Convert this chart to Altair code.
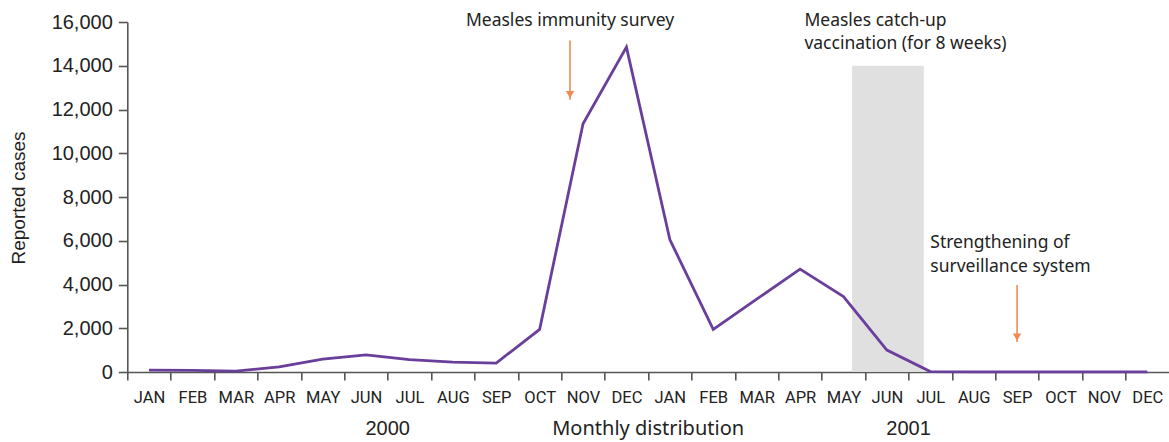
import altair as alt
import pandas as pd

# ---- data ----
months = ["JAN", "FEB", "MAR", "APR", "MAY", "JUN", "JUL", "AUG", "SEP", "OCT", "NOV", "DEC"]
years = ["2000", "2001"]
cases_2000 = [90, 70, 40, 230, 590, 780, 570, 450, 410, 1950, 11350, 14850]
cases_2001 = [6050, 1950, 3330, 4700, 3450, 1000, 20, 10, 10, 10, 10, 10]

# shaded catch-up vaccination period (in month-index units, 0 = Jan 2000 start)
shade_start = [16.7]
shade_end = [18.35]
shade_top = [14000]

# arrows (month-index position, start value, tip value)
arrow_x = [10.2, 20.5]
arrow_from = [15150, 3980]
arrow_to = [12450, 1370]

# annotation texts
ann_text = ["Measles immunity survey", "Measles catch-up", "vaccination (for 8 weeks)",
            "Strengthening of", "surveillance system"]
ann_x = [10.2, 15.6, 15.6, 18.5, 18.5]
ann_y = [15800, 15820, 14760, 5650, 4590]
ann_align = ["center", "left", "left", "left", "left"]

bottom_text = ["2000", "Monthly distribution", "2001"]
bottom_x = [6, 12, 18]
bottom_font = ["Liberation Sans", "Noto Sans", "Liberation Sans"]

# ---- tables ----
keys, vals = [], []
for y, series in zip(years, [cases_2000, cases_2001]):
    for m, v in zip(months, series):
        keys.append(f"{y}-{m}")
        vals.append(v)
line_df = pd.DataFrame({"key": keys, "v": vals})
shade_df = pd.DataFrame({"x1": shade_start, "x2": shade_end, "v": [0], "v2": shade_top})
arrow_df = pd.DataFrame({"x": arrow_x, "v": arrow_from, "v2": arrow_to})
ann_df = pd.DataFrame({"t": ann_text, "x": ann_x, "v": ann_y, "a": ann_align})
bottom_df = pd.DataFrame({"t": bottom_text, "x": bottom_x, "f": bottom_font})

W, H = 1041.7, 350
AXIS_COL = "#555555"
TXT_COL = "#222222"
PURPLE = "#6A3F9B"
ORANGE = "#F08A55"

yscale = alt.Scale(domain=[0, 16000], nice=False, zero=True)
qx = alt.Scale(domain=[0, 24], nice=False, zero=False)

line = alt.Chart(line_df).mark_line(color=PURPLE, strokeWidth=2.8).encode(
    x=alt.X("key:N", sort=keys,
            scale=alt.Scale(type="band", domain=keys, paddingInner=0, paddingOuter=0),
            bandPosition=0.5,
            axis=alt.Axis(title="", labelExpr="split(datum.value, '-')[1]", tickBand="extent",
                          tickSize=8, labelPadding=9, labelAngle=0, labelFont="Roboto",
                          labelFontSize=16.5, labelColor=TXT_COL, domainColor=AXIS_COL,
                          tickColor=AXIS_COL, domainWidth=1.6, tickWidth=1.6, grid=False)),
    y=alt.Y("v:Q", scale=yscale, title="",
            axis=alt.Axis(values=list(range(0, 16001, 2000)), format=",d", tickSize=9,
                          labelPadding=6, labelFont="Liberation Sans", labelFontSize=20,
                          labelColor=TXT_COL, domainColor=AXIS_COL, tickColor=AXIS_COL,
                          domainWidth=1.6, tickWidth=1.6, grid=False, title="")),
)

shade = alt.Chart(shade_df).mark_rect(color="#E0E0E0").encode(
    x=alt.X("x1:Q", scale=qx, axis=None),
    x2="x2:Q",
    y=alt.Y("v:Q", scale=yscale, title=""),
    y2="v2:Q",
)

arrows = alt.Chart(arrow_df).mark_rule(color=ORANGE, strokeWidth=1.6).encode(
    x=alt.X("x:Q", scale=qx, axis=None),
    y=alt.Y("v:Q", scale=yscale, title=""),
    y2="v2:Q",
)

heads = alt.Chart(arrow_df).mark_point(shape="triangle-down", filled=True, opacity=1,
                                       color=ORANGE, size=70, yOffset=-5).encode(
    x=alt.X("x:Q", scale=qx, axis=None),
    y=alt.Y("v2:Q", scale=yscale, title=""),
)

ann_layers = []
for al in ["center", "left"]:
    ann_layers.append(
        alt.Chart(ann_df).transform_filter(alt.datum.a == al).mark_text(
            align=al, baseline="alphabetic", font="Noto Sans", fontSize=17.5, color=TXT_COL
        ).encode(
            x=alt.X("x:Q", scale=qx, axis=None),
            y=alt.Y("v:Q", scale=yscale, title=""),
            text="t:N",
        )
    )

bottom_layers = []
for font, size in [("Liberation Sans", 20), ("Noto Sans", 20)]:
    bottom_layers.append(
        alt.Chart(bottom_df).transform_filter(alt.datum.f == font).mark_text(
            align="center", baseline="alphabetic", font=font, fontSize=size, color=TXT_COL
        ).encode(
            x=alt.X("x:Q", scale=qx, axis=None),
            y=alt.value(413),
            text="t:N",
        )
    )

ytitle = alt.Chart(pd.DataFrame({"t": ["Reported cases"]})).mark_text(
    angle=270, align="center", baseline="middle", font="Liberation Sans", fontSize=19,
    color=TXT_COL
).encode(x=alt.value(-108), y=alt.value(176), text="t:N")

chart = alt.layer(shade, line, arrows, heads, *ann_layers, *bottom_layers, ytitle).resolve_scale(
    x="independent"
).properties(
    width=W, height=H,
    autosize=alt.AutoSizeParams(type="none"),
    padding={"left": 127.3, "top": 22, "right": 0, "bottom": 70},
).configure_view(stroke=None)

chart.save("out.html", embed_options={"renderer": "svg", "actions": False})
